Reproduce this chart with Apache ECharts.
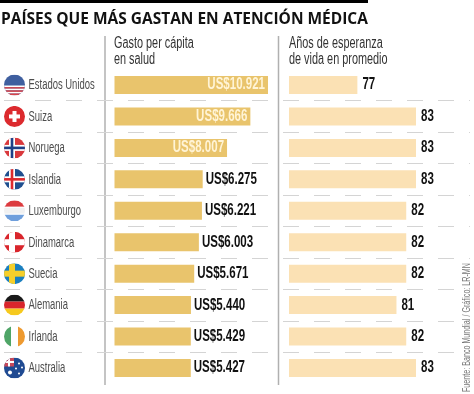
<!DOCTYPE html>
<html><head><meta charset="utf-8">
<style>html,body{margin:0;padding:0;background:#fff}#c{width:474px;height:394px}</style>
<script src="https://cdn.jsdelivr.net/npm/echarts@6/dist/echarts.min.js"></script>
</head><body><div id="c"></div>
<script>
const countries=['Estados Unidos','Suiza','Noruega','Islandia','Luxemburgo','Dinamarca','Suecia','Alemania','Irlanda','Australia'];
const spending=[10921,9666,8007,6275,6221,6003,5671,5440,5429,5427];
const lifeYears=[77,83,83,83,82,82,82,81,82,83];
const insideCount=3;
const titleText='PAÍSES QUE MÁS GASTAN EN ATENCIÓN MÉDICA';
const head1='Gasto per cápita\nen salud';
const head2='Años de esperanza\nde vida en promedio';
const sourceText='Fuente: Banco Mundial / Gráfico: LR-MN';

const SANS='"Liberation Sans",sans-serif';
function svg(inner){
  return 'data:image/svg+xml;charset=utf-8,'+encodeURIComponent(
  '<svg xmlns="http://www.w3.org/2000/svg" width="84" height="84" viewBox="0 0 21 21"><defs><clipPath id="k"><circle cx="10.5" cy="10.5" r="10.5"/></clipPath></defs><g clip-path="url(#k)">'+inner+'</g></svg>');
}
function r(x,y,w,h,c){return `<rect x="${x}" y="${y}" width="${w}" height="${h}" fill="${c}"/>`;}
function nordic(bg,cross,inner){
  let s=r(0,0,21,21,bg)+r(0,7.5,21,6,cross)+r(5,0,6,21,cross);
  if(inner)s+=r(0,9.2,21,2.6,inner)+r(6.7,0,2.6,21,inner);
  return svg(s);
}
const flags=[
 svg(r(0,0,21,21,'#3f5f9f')+r(0,11,21,1.6,'#fff')+r(0,12.6,21,1.6,'#d9444a')+r(0,14.2,21,1.6,'#fff')+r(0,15.8,21,1.6,'#d9444a')+r(0,17.4,21,1.6,'#fff')+r(0,19,21,2,'#d9444a')),
 svg(r(0,0,21,21,'#dc2a2e')+r(8.5,5,4,11,'#fff')+r(5,8.5,11,4,'#fff')),
 nordic('#d9383c','#fff','#1f3f86'),
 nordic('#1f4f8f','#fff','#dc2a2e'),
 svg(r(0,0,21,6.5,'#dc3a3e')+r(0,6.5,21,1,'#fff')+r(0,7.5,21,6,'#f1f1f1')+r(0,13.5,21,1,'#fff')+r(0,14.5,21,6.5,'#6f9fdc')),
 nordic('#d9252c','#fff',null),
 nordic('#1b7fbf','#f6cf2a',null),
 svg(r(0,0,21,7,'#1a1a1a')+r(0,7,21,7,'#d9252c')+r(0,14,21,7,'#f6c91e')),
 svg(r(0,0,7,21,'#4fa567')+r(7,0,7,21,'#fff')+r(14,0,7,21,'#ee9a30')),
 svg(r(0,0,21,21,'#1f4a92')+r(0,0,10,9,'#c8485a')+r(4,0,2,9,'#fff')+r(0,3.5,10,2,'#fff')+'<circle cx="6" cy="15" r="2" fill="#fff"/><circle cx="15" cy="6" r="1" fill="#fff"/><circle cx="18" cy="10" r="1" fill="#fff"/><circle cx="15" cy="16" r="1" fill="#fff"/><circle cx="12" cy="11" r="1" fill="#fff"/>')
];

const TOP=69.3,H=314.4;
function catAxis(idx,extra){return Object.assign({type:'category',gridIndex:idx,inverse:true,data:countries,
  axisLine:{show:false},axisTick:{show:false},axisLabel:{show:false},splitLine:{show:false}},extra||{});}
function valAxis(idx,min,max){return {type:'value',gridIndex:idx,min,max,show:false};}
const fmt=v=>'US$'+String(v).replace(/\B(?=(\d{3})+$)/g,'.');

function narrowText(x,y,text,o){
  return {type:'text',x,y,scaleX:o.sx,scaleY:1,silent:true,
    style:{x:0,y:0,text,align:o.align||'left',verticalAlign:'middle',fontFamily:SANS,fontWeight:o.weight||'normal',fontSize:o.size,fill:o.fill}};
}

const option={
 animation:false,backgroundColor:'#fff',
 grid:[
  {left:4,width:466,top:TOP,height:H},
  {left:114.5,width:153.5,top:TOP,height:H},
  {left:289,width:127,top:TOP,height:H}
 ],
 xAxis:[valAxis(0,0,1),valAxis(1,0,10921),valAxis(2,70,83)],
 yAxis:[
  catAxis(0,{splitLine:{show:true,showMinLine:false,showMaxLine:false,interval:0,lineStyle:{color:'#d4d4d4',type:[16,15],width:1}}}),
  catAxis(1),catAxis(2)
 ],
 series:[
  {type:'bar',xAxisIndex:1,yAxisIndex:1,barWidth:18,itemStyle:{color:'#E9C46C'},data:spending},
  {type:'bar',xAxisIndex:2,yAxisIndex:2,barWidth:18,itemStyle:{color:'#FBE1B4'},data:lifeYears},
  {type:'custom',xAxisIndex:0,yAxisIndex:0,z:5,encode:{x:0,y:1},clip:false,
   data:countries.map((c,i)=>[0,i]),
   renderItem(params,api){
     const i=api.value(1),p=api.coord([0,i]);
     return {type:'group',children:[
       {type:'image',style:{image:flags[i],x:p[0],y:p[1]-10.5,width:21,height:21}},
       narrowText(p[0]+24.5,p[1],countries[i],{size:15.5,sx:0.61,fill:'#4d4d4d'})
     ]};
   }},
  {type:'custom',xAxisIndex:1,yAxisIndex:1,z:5,encode:{x:0,y:1},clip:false,
   data:spending.map((v,i)=>[v,i]),
   renderItem(params,api){
     const v=api.value(0),i=api.value(1),p=api.coord([v,i]),inside=i<insideCount;
     return narrowText(p[0]+(inside?-3:3),p[1],fmt(v),{size:16,sx:0.72,weight:'bold',align:inside?'right':'left',fill:inside?'#FFF4D6':'#111'});
   }},
  {type:'custom',xAxisIndex:2,yAxisIndex:2,z:5,encode:{x:0,y:1},clip:false,
   data:lifeYears.map((v,i)=>[v,i]),
   renderItem(params,api){
     const v=api.value(0),i=api.value(1),p=api.coord([v,i]);
     return narrowText(p[0]+5,p[1],String(v),{size:16,sx:0.72,weight:'bold',fill:'#111'});
   }}
 ],
 graphic:[
  {type:'rect',shape:{x:0,y:0,width:368,height:3},style:{fill:'#000'}},
  {type:'line',shape:{x1:105,y1:36,x2:105,y2:385},style:{stroke:'#b0b0b0',lineWidth:1.5}},
  {type:'line',shape:{x1:278.5,y1:36,x2:278.5,y2:385},style:{stroke:'#b0b0b0',lineWidth:1.5}},
  {type:'text',x:1,y:11,scaleX:0.938,style:{text:titleText,fontFamily:'"Open Sans","Noto Sans",sans-serif',fontWeight:'bold',fontSize:16.5,fill:'#111'}},
  {type:'text',x:114,y:36,scaleX:0.68,style:{text:head1,fontFamily:SANS,fontSize:16,lineHeight:16,fill:'#333'}},
  {type:'text',x:289,y:36,scaleX:0.68,style:{text:head2,fontFamily:SANS,fontSize:16,lineHeight:16,fill:'#333'}},
  {type:'text',x:462,y:392,rotation:Math.PI/2,scaleX:0.68,style:{text:sourceText,fontFamily:SANS,fontSize:10.5,fill:'#777'}}
 ]
};
const chart=echarts.init(document.getElementById('c'),null,{renderer:'canvas'});
chart.setOption(option);
</script></body></html>
